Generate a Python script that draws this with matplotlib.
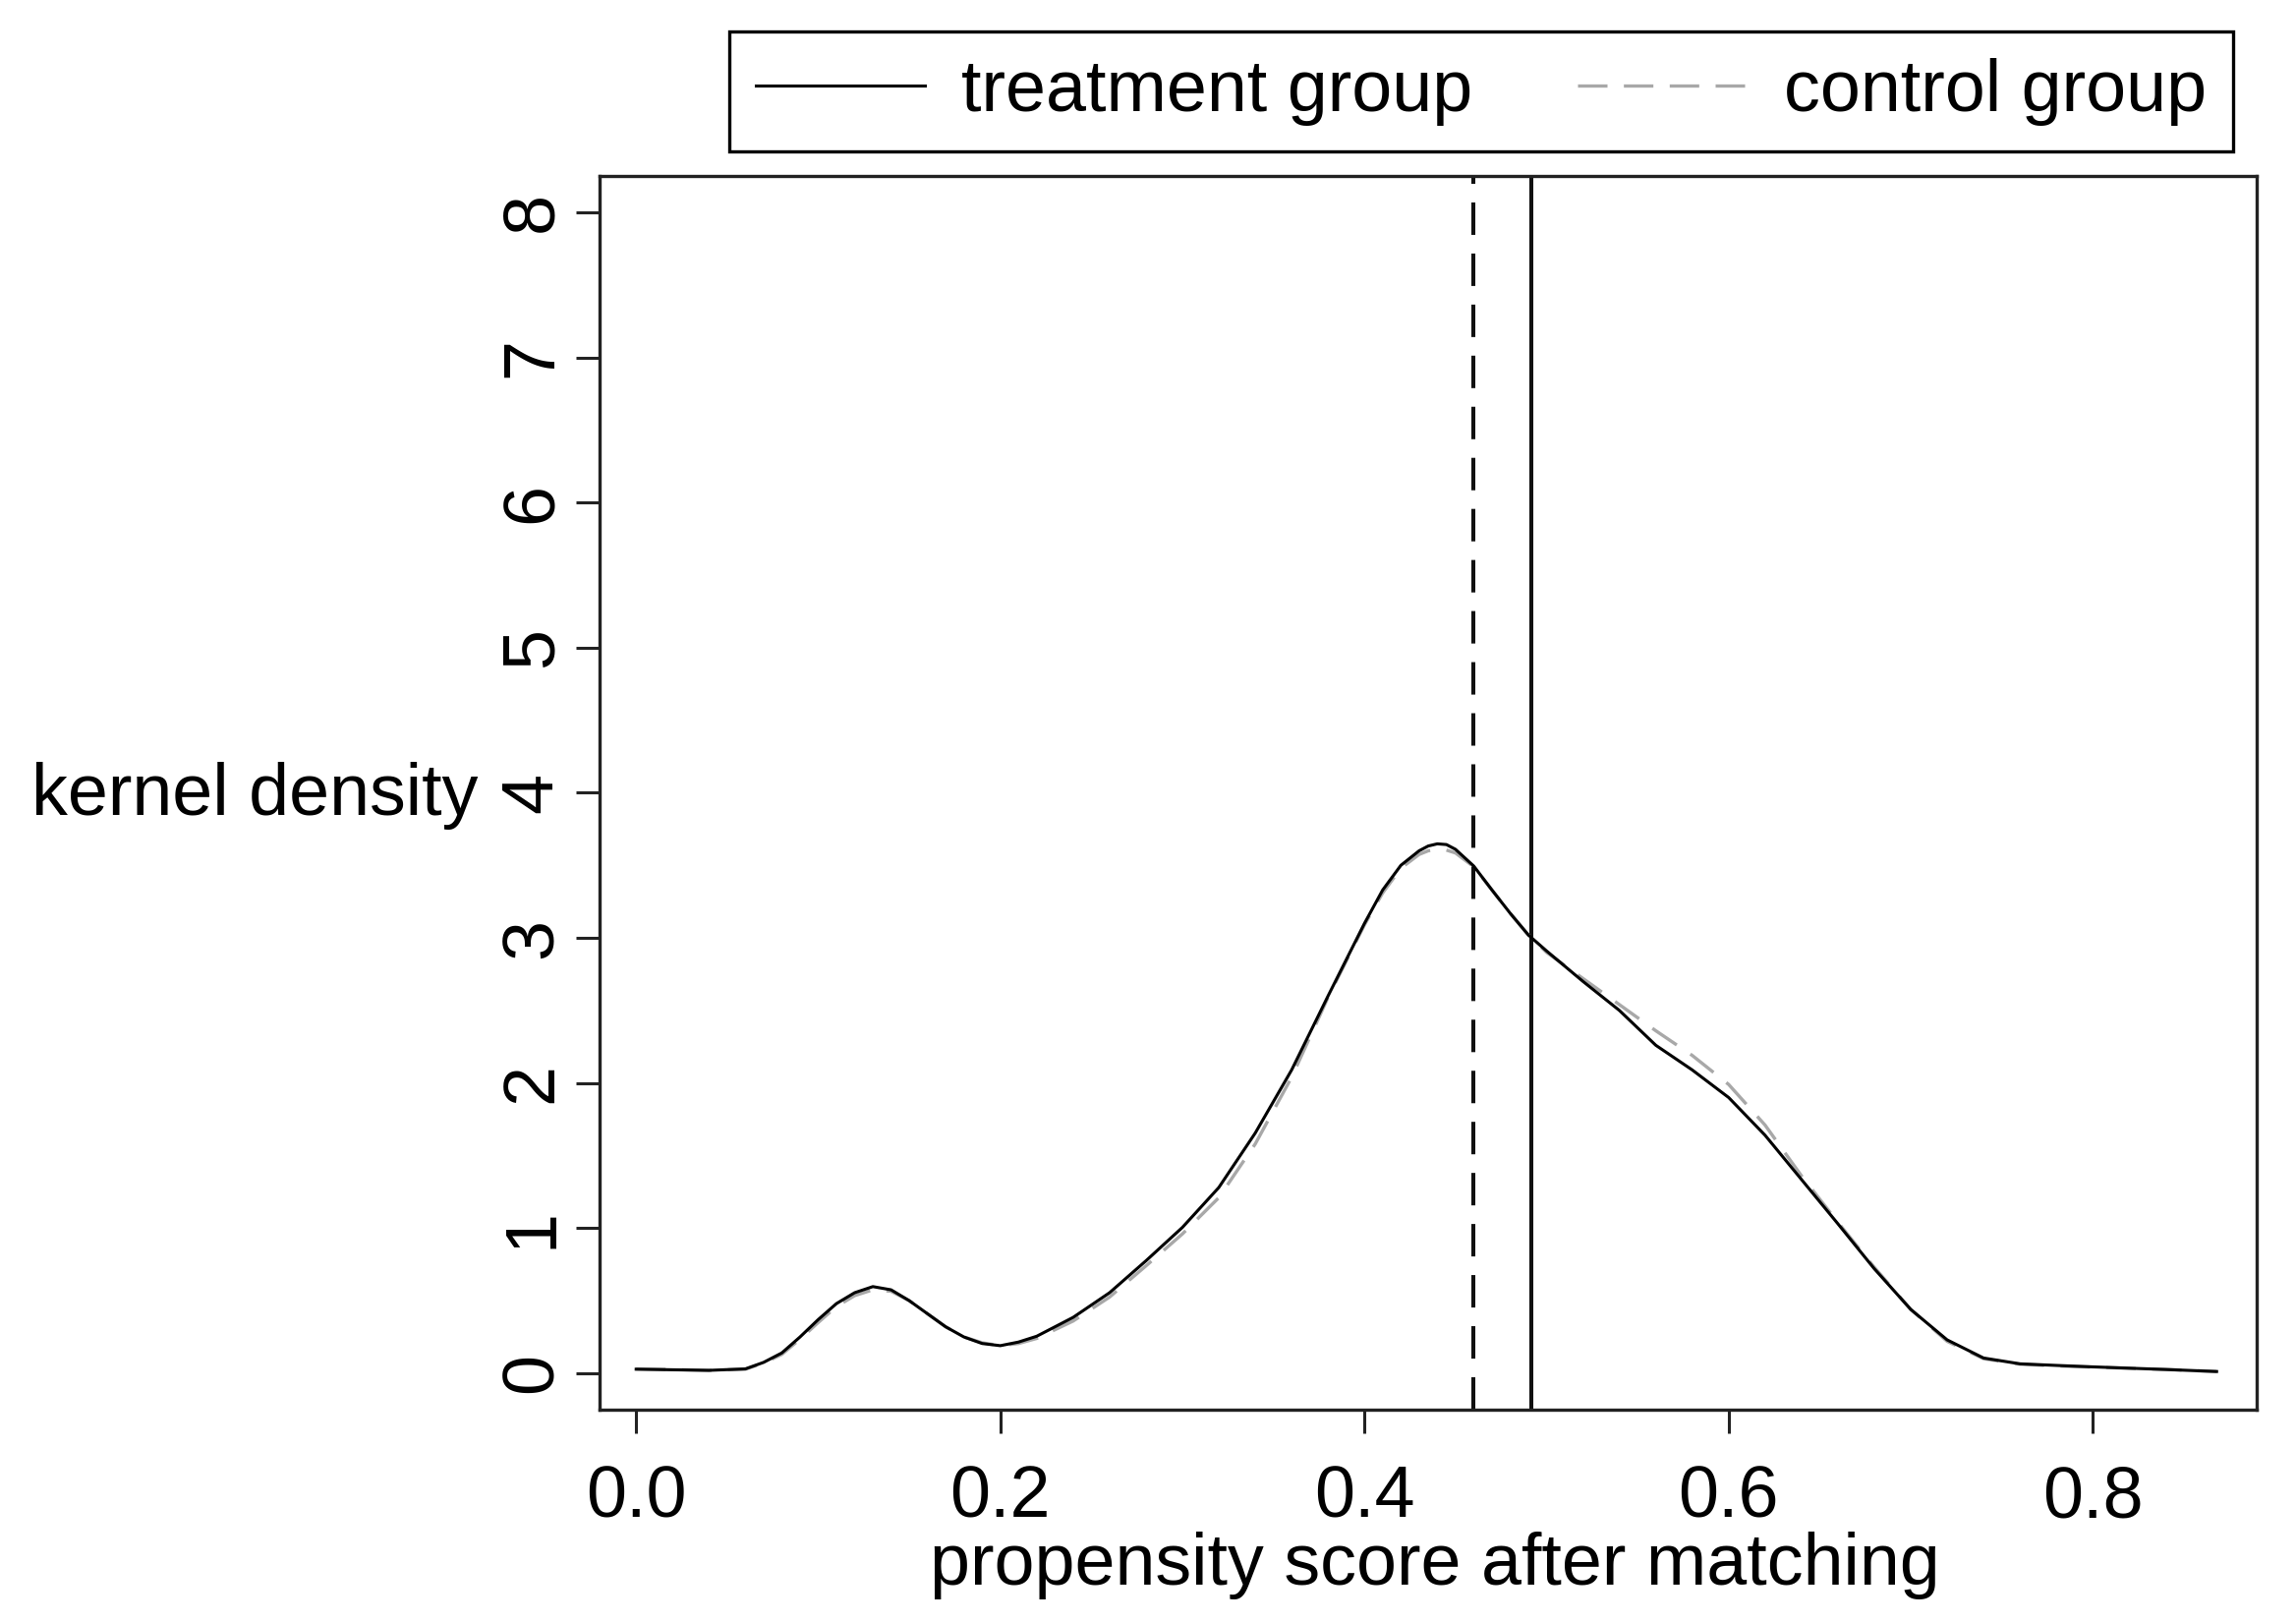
import numpy as np
import matplotlib
matplotlib.use("Agg")
import matplotlib.pyplot as plt
from matplotlib.lines import Line2D

plt.rcParams['font.family'] = ['Liberation Sans', 'DejaVu Sans']

# ---------------- data ----------------
score = [0.00, 0.02, 0.04, 0.06, 0.07, 0.08, 0.09, 0.10, 0.11, 0.12, 0.13, 0.14,
         0.15, 0.16, 0.17, 0.18, 0.19, 0.20, 0.21, 0.22, 0.24, 0.26, 0.28, 0.30,
         0.32, 0.34, 0.36, 0.38, 0.40, 0.41, 0.42, 0.43, 0.435, 0.44, 0.445, 0.45,
         0.46, 0.47, 0.48, 0.49, 0.50, 0.52, 0.54, 0.56, 0.58, 0.60, 0.62, 0.64,
         0.66, 0.68, 0.70, 0.72, 0.74, 0.76, 0.78, 0.80, 0.84, 0.868]

treatment_density = [0.028, 0.024, 0.020, 0.030, 0.075, 0.14, 0.25, 0.37, 0.48, 0.555, 0.597, 0.575,
                     0.50, 0.41, 0.32, 0.25, 0.205, 0.19, 0.215, 0.255, 0.385, 0.555, 0.775, 1.005,
                     1.28, 1.655, 2.09, 2.60, 3.10, 3.33, 3.50, 3.60, 3.633, 3.648, 3.643, 3.61,
                     3.495, 3.33, 3.17, 3.02, 2.91, 2.70, 2.50, 2.26, 2.09, 1.90, 1.64, 1.335,
                     1.03, 0.72, 0.44, 0.23, 0.105, 0.065, 0.054, 0.044, 0.026, 0.012]

control_density = [0.030, 0.026, 0.020, 0.028, 0.070, 0.13, 0.235, 0.35, 0.46, 0.535, 0.575, 0.565,
                   0.50, 0.41, 0.32, 0.25, 0.21, 0.19, 0.205, 0.24, 0.36, 0.525, 0.74, 0.96,
                   1.21, 1.58, 2.04, 2.59, 3.09, 3.31, 3.48, 3.575, 3.60, 3.61, 3.605, 3.585,
                   3.49, 3.33, 3.17, 3.02, 2.90, 2.72, 2.54, 2.36, 2.19, 1.99, 1.71, 1.36,
                   1.04, 0.73, 0.44, 0.22, 0.10, 0.062, 0.05, 0.042, 0.026, 0.012]

treatment_mean = 0.4915
control_mean = 0.4597

x_ticks = [0.0, 0.2, 0.4, 0.6, 0.8]
x_tick_labels = ["0.0", "0.2", "0.4", "0.6", "0.8"]
y_ticks = [0, 1, 2, 3, 4, 5, 6, 7, 8]
y_tick_labels = ["0", "1", "2", "3", "4", "5", "6", "7", "8"]

labels = ["treatment group", "control group"]
x_label = "propensity score after matching"
y_label = "kernel density"

# ---------------- figure ----------------
W, H = 2336, 1651
fig = plt.figure(figsize=(W / 100, H / 100), dpi=100)
ax = fig.add_axes([610 / W, 1 - 1434 / H, (2296 - 610) / W, (1434 - 179) / H])

FS = 53
GRAY = '#a8a8a8'
SPINE = '#222222'

ax.plot(score, control_density, color=GRAY, lw=2.4, dashes=(9.0, 5.0), zorder=3)
ax.plot(score, treatment_density, color='black', lw=2.2, zorder=4)

ax.axvline(control_mean, color='#111111', lw=2.9, dashes=(8.2, 4.7), zorder=2)
ax.axvline(treatment_mean, color='#111111', lw=2.9, zorder=2)

ax.set_xlim(-0.0201, 0.890)
ax.set_ylim(-0.251, 8.25)

ax.set_xticks(x_ticks)
ax.set_xticklabels(x_tick_labels)
ax.set_yticks(y_ticks)
ax.set_yticklabels(y_tick_labels)

for sp in ax.spines.values():
    sp.set_linewidth(2.4)
    sp.set_color(SPINE)

ax.tick_params(axis='both', which='major', length=17.3, width=2.2, color=SPINE,
               labelsize=FS, direction='out')
ax.tick_params(axis='x', pad=23)
ax.tick_params(axis='y', pad=7)
plt.setp(ax.get_yticklabels(), rotation=90, va='center', ha='right')

fig.text(487 / W, 1 - 829 / H, y_label, fontsize=FS, ha='right', va='baseline')
fig.text(1460 / W, 1 - 1612 / H, x_label, fontsize=FS, ha='center', va='baseline')

handles = [Line2D([], [], color='black', lw=2.2),
           Line2D([], [], color=GRAY, lw=2.4, dashes=(9.0, 5.0))]
leg = fig.legend(handles, labels, loc='upper left', bbox_to_anchor=(742 / W, 1 - 32 / H),
                 ncol=2, fontsize=FS, frameon=True, fancybox=False, edgecolor='black',
                 framealpha=1, borderpad=0.36, handlelength=2.35, handletextpad=0.5,
                 columnspacing=1.45, borderaxespad=0)
leg.get_frame().set_linewidth(2.4)

fig.savefig("out.png", dpi=100)
